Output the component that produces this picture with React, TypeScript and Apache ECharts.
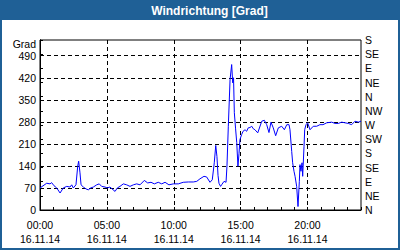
import React, { useEffect, useRef } from "react";
import * as echarts from "echarts";

// hours since 00:00 on 16.11.14
const hours = [
  0.0, 0.5, 0.75, 0.87, 1.05, 1.25, 1.5, 1.74, 2.0, 2.24, 2.37, 2.49, 2.69, 2.82, 2.89, 2.99,
  3.07, 3.24, 3.44, 3.61, 3.79, 3.99, 4.24, 4.43, 4.61, 4.86, 5.03, 5.23, 5.61, 5.78, 5.98,
  6.23, 6.48, 6.73, 6.98, 7.23, 7.48, 7.8, 8.05, 8.3, 8.55, 8.84, 9.1, 9.35, 9.64, 9.97,
  10.34, 10.71, 11.09, 11.46, 11.72, 11.96, 12.26, 12.46, 12.71, 12.88, 13.03, 13.14, 13.23,
  13.31, 13.38, 13.5, 13.61, 13.76, 13.91, 13.98, 14.08, 14.21, 14.33, 14.41, 14.47, 14.53,
  14.62, 14.71, 14.8, 14.88, 14.95, 15.08, 15.18, 15.33, 15.45, 15.57, 15.7, 15.83, 15.95,
  16.07, 16.28, 16.58, 16.77, 16.95, 17.12, 17.27, 17.44, 17.62, 17.82, 18.07, 18.27, 18.45,
  18.62, 18.69, 18.82, 18.89, 18.99, 19.07, 19.19, 19.29, 19.39, 19.44, 19.51, 19.59, 19.64,
  19.74, 19.79, 19.89, 20.01, 20.19, 20.43, 20.69, 20.93, 21.16, 21.44, 21.81, 22.06, 22.3,
  22.56, 22.8, 23.05, 23.3, 23.55, 23.8, 24.0,
];

// wind direction in degrees
const degrees = [
  70, 85, 83, 87, 77, 70, 54, 70, 75, 73, 80, 70, 80, 139, 155, 118,
  80, 73, 67, 64, 70, 73, 80, 83, 75, 73, 70, 73, 59, 70, 75,
  83, 80, 75, 80, 83, 80, 94, 86, 88, 83, 88, 83, 88, 80, 83,
  83, 88, 89, 89, 91, 99, 107, 105, 88, 96, 150, 205, 170,
  110, 85, 75, 82, 91, 88, 140, 266, 414, 462, 404, 420, 309,
  260, 214, 139, 180, 224, 240, 250, 255, 250, 261, 262, 266, 258,
  255, 245, 282, 285, 271, 246, 279, 261, 236, 261, 266, 255, 271,
  271, 255, 186, 150, 123, 107, 75, 11, 91, 144, 123, 150, 107,
  202, 255, 271, 277, 255, 266, 266, 271, 271, 277, 279, 275, 275,
  279, 277, 275, 271, 282, 279, 282,
];

const compassLabels = ["N", "NE", "E", "SE", "S", "SW", "W", "NW", "N", "NE", "E", "SE", "S"];
const dateLabel = "16.11.14";
const titleText = "Windrichtung [Grad]";
const unitText = "Grad";

const FONT = "'Liberation Sans', Arial, sans-serif";
const BLUE = "#1f6096";

export default function App() {
  const ref = useRef<HTMLDivElement>(null);
  useEffect(() => {
    if (!ref.current) return;
    const chart = echarts.init(ref.current, undefined, { renderer: "svg" });
    const data = hours.map((h, i) => [h, degrees[i]]);
    chart.setOption({
      animation: false,
      backgroundColor: "#ffffff",
      textStyle: { fontFamily: FONT },
      grid: {
        left: 40,
        right: 39,
        top: 40,
        bottom: 40,
        show: true,
        borderColor: "#000",
        borderWidth: 1,
        backgroundColor: "transparent",
      },
      graphic: [
        {
          type: "rect",
          z: 100,
          shape: { x: 0, y: 0, width: 400, height: 20 },
          style: { fill: BLUE },
        },
        {
          type: "rect",
          z: 100,
          shape: { x: 1, y: 1, width: 398, height: 248 },
          style: { fill: "none", stroke: BLUE, lineWidth: 2 },
        },
        {
          type: "text",
          z: 101,
          x: 209.5,
          y: 10.5,
          style: {
            text: titleText,
            fill: "#ffffff",
            font: `bold 12px ${FONT}`,
            textAlign: "center",
            textVerticalAlign: "middle",
          },
        },
        {
          type: "text",
          z: 101,
          x: 36,
          y: 44,
          style: {
            text: unitText,
            fill: "#000",
            font: `10.5px ${FONT}`,
            textAlign: "right",
            textVerticalAlign: "middle",
          },
        },
      ],
      xAxis: [
        {
          type: "value",
          min: 0,
          max: 24,
          interval: 1,
          position: "bottom",
          axisLine: { show: true, lineStyle: { color: "#000", width: 1 } },
          axisTick: { show: true, inside: true, length: 3, lineStyle: { color: "#000" } },
          axisLabel: {
            margin: 8,
            color: "#000",
            fontSize: 10.5,
            lineHeight: 14,
            fontFamily: FONT,
            formatter: (v: number) =>
              v % 5 === 0 && v < 24 ? `${String(v).padStart(2, "0")}:00\n${dateLabel}` : "",
          },
          splitLine: { show: false },
        },
        {
          type: "value",
          min: 0,
          max: 24,
          interval: 5,
          position: "bottom",
          axisLine: { show: false },
          axisTick: { show: false },
          axisLabel: { show: false },
          splitLine: {
            show: true,
            showMinLine: false,
            showMaxLine: false,
            lineStyle: { color: "#000", type: [4, 3], width: 1 },
          },
        },
      ],
      yAxis: [
        {
          type: "value",
          min: 0,
          max: 540,
          interval: 70,
          position: "left",
          axisLine: { show: true, lineStyle: { color: "#000", width: 1 } },
          axisTick: { show: false },
          axisLabel: {
            margin: 4,
            color: "#000",
            fontSize: 10.5,
            fontFamily: FONT,
            formatter: (v: number) => (v > 490 ? "" : String(v)),
          },
          splitLine: {
            show: true,
            showMinLine: false,
            showMaxLine: false,
            lineStyle: { color: "#000", type: [4, 3], width: 1 },
          },
        },
        {
          type: "value",
          min: 0,
          max: 540,
          interval: 45,
          position: "right",
          axisLine: { show: true, lineStyle: { color: "#000", width: 1 } },
          axisTick: { show: true, inside: false, length: 3, lineStyle: { color: "#000" } },
          axisLabel: {
            margin: 4,
            color: "#000",
            fontSize: 10.5,
            fontFamily: FONT,
            formatter: (v: number) => compassLabels[Math.round(v / 45)] ?? "",
          },
          splitLine: { show: false },
        },
      ],
      series: [
        {
          type: "line",
          xAxisIndex: 0,
          yAxisIndex: 0,
          data,
          showSymbol: false,
          symbol: "none",
          lineStyle: { color: "#0000ff", width: 1 },
          z: 5,
        },
      ],
    });
    return () => chart.dispose();
  }, []);
  return (
    <div
      ref={ref}
      style={{ position: "absolute", left: 0, top: 0, width: 400, height: 250 }}
    />
  );
}
